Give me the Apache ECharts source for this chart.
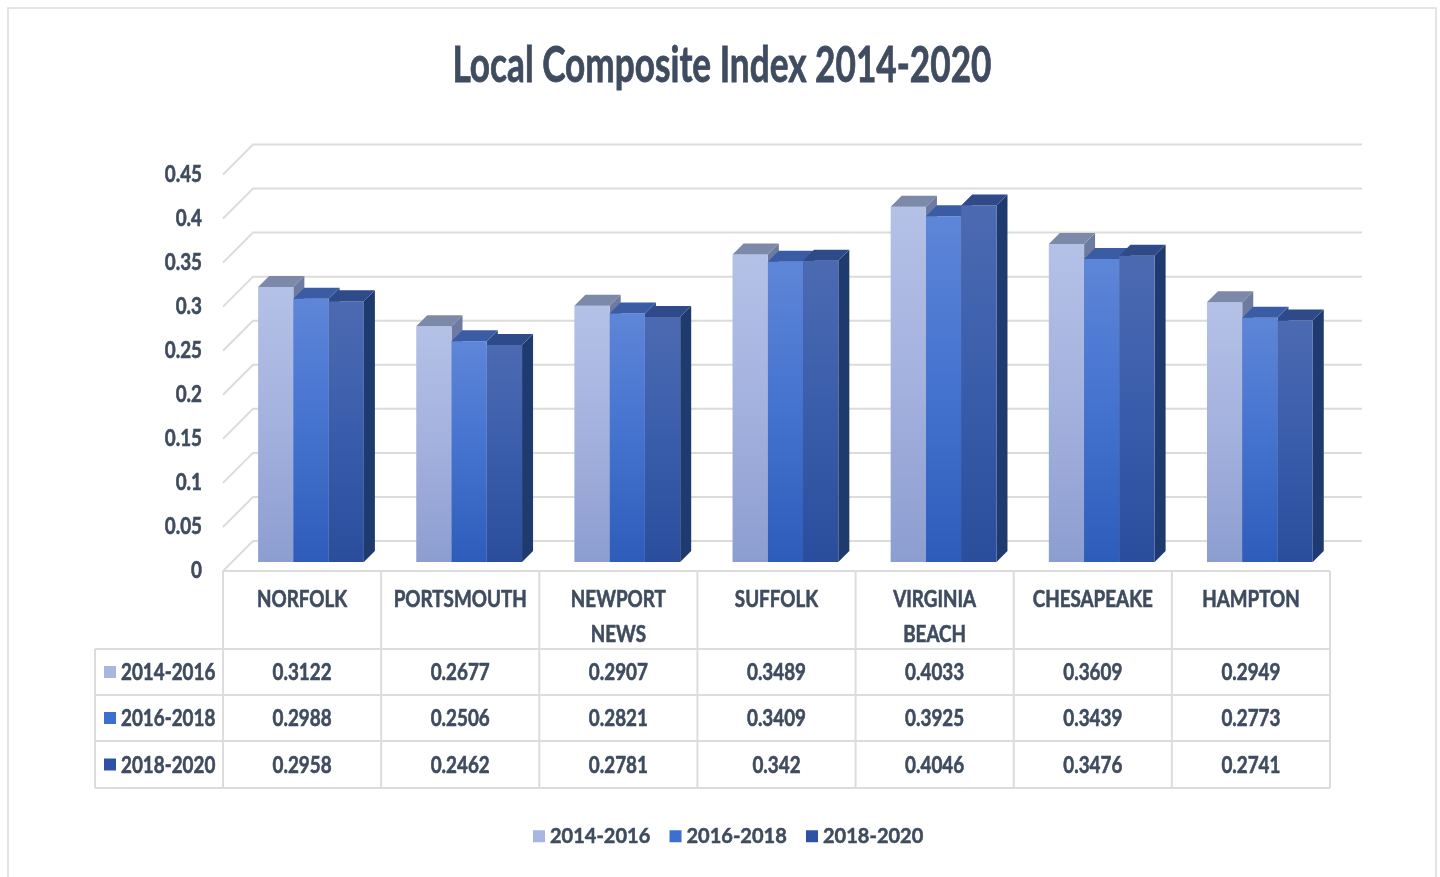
<!DOCTYPE html>
<html>
<head>
<meta charset="utf-8">
<title>Local Composite Index 2014-2020</title>
<script src="https://cdn.jsdelivr.net/npm/echarts@6/dist/echarts.min.js"></script>
<style>
html, body { margin: 0; padding: 0; background: #fff; }
#main { width: 1440px; height: 877px; }
</style>
</head>
<body>
<div id="main"></div>
<script>
// data
var categories = ['NORFOLK', 'PORTSMOUTH', 'NEWPORT\nNEWS', 'SUFFOLK', 'VIRGINIA\nBEACH', 'CHESAPEAKE', 'HAMPTON'];
var seriesNames = ['2014-2016', '2016-2018', '2018-2020'];
var values1416 = [0.3122, 0.2677, 0.2907, 0.3489, 0.4033, 0.3609, 0.2949];
var values1618 = [0.2988, 0.2506, 0.2821, 0.3409, 0.3925, 0.3439, 0.2773];
var values1820 = [0.2958, 0.2462, 0.2781, 0.342, 0.4046, 0.3476, 0.2741];
var yTicks = [0, 0.05, 0.1, 0.15, 0.2, 0.25, 0.3, 0.35, 0.4, 0.45];
var titleText = 'Local Composite Index 2014-2020';

var FONT = "Lato, 'Open Sans', sans-serif";
var TEXT = '#3F4B5F';
var LINE = '#DCDCDC';

var styles = [
  { legend: '#A9B6E0', top: '#7D89A9', side: '#6D7BA3', grad: ['#B4C1E7', '#A3B1DE', '#8C9DD0'] },
  { legend: '#3D6FD1', top: '#3A5CA4', side: '#2D4C8E', grad: ['#5E86D8', '#4472CF', '#2E5CBA'] },
  { legend: '#2E52A3', top: '#2E4A88', side: '#1F3A6E', grad: ['#4C6AB2', '#3A5DAB', '#2A4D9C'] }
];
var allValues = [values1416, values1618, values1820];

// the original uses a narrow font, so texts are squeezed horizontally
var measureCtx = document.createElement('canvas').getContext('2d');
function textWidth(str, font) {
  measureCtx.font = font;
  return measureCtx.measureText(str).width;
}
var LABEL_FONT = 'bold 23px ' + FONT;
var squeeze = 133 / textWidth('PORTSMOUTH', LABEL_FONT);
var TITLE_FONT = 'bold 50px ' + FONT;
var titleSqueeze = 539 / textWidth(titleText, TITLE_FONT);

function label(str, x, y, align, extra) {
  var st = {
    text: str, x: 0, y: 0, align: align, verticalAlign: 'middle', font: LABEL_FONT,
    fill: TEXT, stroke: TEXT, lineWidth: 0.6
  };
  if (extra) for (var k in extra) st[k] = extra[k];
  return { type: 'text', x: x, y: y, scaleX: squeeze, style: st };
}

var chart = echarts.init(document.getElementById('main'));

function barSeries(idx) {
  var st = styles[idx];
  return {
    type: 'custom',
    name: seriesNames[idx],
    z: 3 + idx,
    itemStyle: { color: st.legend },
    data: allValues[idx].map(function (v, i) { return [i, v]; }),
    renderItem: function (params, api) {
      var c = api.value(0), v = api.value(1);
      var base = api.coord([c, 0]);
      var top = api.coord([c, v]);
      var cw = api.size([1, 0])[0];
      var w = cw * 0.223;
      var x0 = base[0] - cw * 0.278 + idx * w;
      var x1 = x0 + w;
      var d = 11;
      return {
        type: 'group',
        children: [
          {
            type: 'polygon',
            shape: { points: [[x1, top[1]], [x1 + d, top[1] - d], [x1 + d, base[1] - d], [x1, base[1]]] },
            style: { fill: st.side }
          },
          {
            type: 'rect',
            shape: { x: x0, y: top[1], width: w, height: base[1] - top[1] },
            style: {
              fill: new echarts.graphic.LinearGradient(0, 0, 0, 1, [
                { offset: 0, color: st.grad[0] },
                { offset: 0.5, color: st.grad[1] },
                { offset: 1, color: st.grad[2] }
              ])
            }
          },
          {
            type: 'polygon',
            shape: { points: [[x0, top[1]], [x0 + d, top[1] - d], [x1 + d, top[1] - d], [x1, top[1]]] },
            style: { fill: st.top }
          }
        ]
      };
    }
  };
}

// back wall grid lines with the perspective slant, plus the value labels
var gridSeries = {
  type: 'custom',
  silent: true,
  z: 1,
  data: yTicks.map(function (t) { return [0, t]; }),
  renderItem: function (params, api) {
    var cs = params.coordSys;
    var t = api.value(1);
    var y = api.coord([0, t])[1];
    return {
      type: 'group',
      children: [
        {
          type: 'polyline',
          shape: { points: [[cs.x, y + 9], [cs.x + 30, y - 21], [cs.x + cs.width + 32, y - 21]] },
          style: { stroke: LINE, lineWidth: 2, fill: null }
        },
        label(String(+t.toFixed(2)), cs.x - 21, y + 9, 'right')
      ]
    };
  }
};

// data table under the plot
var tableTop = 571, rowY = [649, 695, 741, 788];
var tableSeries = {
  type: 'custom',
  silent: true,
  z: 2,
  data: categories.map(function (c, i) { return [i]; }),
  renderItem: function (params, api) {
    var i = api.value(0);
    var cx = api.coord([i, 0])[0];
    var cw = api.size([1, 0])[0];
    var xl = cx - cw / 2, xr = cx + cw / 2;
    var kids = [
      { type: 'line', shape: { x1: xl, y1: tableTop, x2: xr, y2: tableTop }, style: { stroke: LINE, lineWidth: 2 } },
      { type: 'line', shape: { x1: xr, y1: tableTop, x2: xr, y2: rowY[3] }, style: { stroke: LINE, lineWidth: 2 } },
      label(categories[i], cx, 582, 'center', { verticalAlign: 'top', lineHeight: 35 })
    ];
    if (i === 0) {
      kids.push({ type: 'line', shape: { x1: xl, y1: tableTop, x2: xl, y2: rowY[3] }, style: { stroke: LINE, lineWidth: 2 } });
    }
    for (var r = 0; r < 3; r++) {
      kids.push(label(String(allValues[r][i]), cx, (rowY[r] + rowY[r + 1]) / 2 + 1, 'center'));
    }
    return { type: 'group', children: kids };
  }
};

// frame, title, and the row header column of the table
var graphics = [
  { type: 'rect', shape: { x: 8, y: 8, width: 1428, height: 880 }, style: { fill: null, stroke: LINE, lineWidth: 1.5 } },
  {
    type: 'text', x: 722, y: 66, scaleX: titleSqueeze,
    style: {
      text: titleText, x: 0, y: 0, align: 'center', verticalAlign: 'middle', font: TITLE_FONT,
      fill: TEXT, stroke: TEXT, lineWidth: 0.8
    }
  }
];
rowY.forEach(function (y) {
  graphics.push({ type: 'line', shape: { x1: 95, y1: y, x2: 1330, y2: y }, style: { stroke: LINE, lineWidth: 2 } });
});
graphics.push({ type: 'line', shape: { x1: 95, y1: rowY[0], x2: 95, y2: rowY[3] }, style: { stroke: LINE, lineWidth: 2 } });
seriesNames.forEach(function (n, r) {
  var cy = (rowY[r] + rowY[r + 1]) / 2;
  graphics.push({ type: 'rect', shape: { x: 104, y: cy - 6, width: 12, height: 12 }, style: { fill: styles[r].legend } });
  graphics.push(label(n, 121, cy + 1, 'left'));
});

var option = {
  backgroundColor: '#fff',
  animation: false,
  legend: {
    data: seriesNames,
    top: 826,
    left: 533,
    padding: 0,
    icon: 'rect',
    itemWidth: 12,
    itemHeight: 12,
    itemGap: 19,
    textStyle: {
      fontFamily: FONT, fontSize: 20, fontWeight: 'bold', color: TEXT,
      textBorderColor: TEXT, textBorderWidth: 0.5
    }
  },
  grid: { left: 223, right: 110, top: 165.5, bottom: 315 },
  xAxis: {
    type: 'category',
    data: categories,
    axisLine: { show: false },
    axisTick: { show: false },
    axisLabel: { show: false },
    splitLine: { show: false }
  },
  yAxis: {
    type: 'value',
    min: 0,
    max: 0.45,
    interval: 0.05,
    axisLine: { show: false },
    axisTick: { show: false },
    splitLine: { show: false },
    axisLabel: { show: false }
  },
  graphic: graphics,
  series: [gridSeries, tableSeries, barSeries(0), barSeries(1), barSeries(2)]
};

chart.setOption(option);
</script>
</body>
</html>
